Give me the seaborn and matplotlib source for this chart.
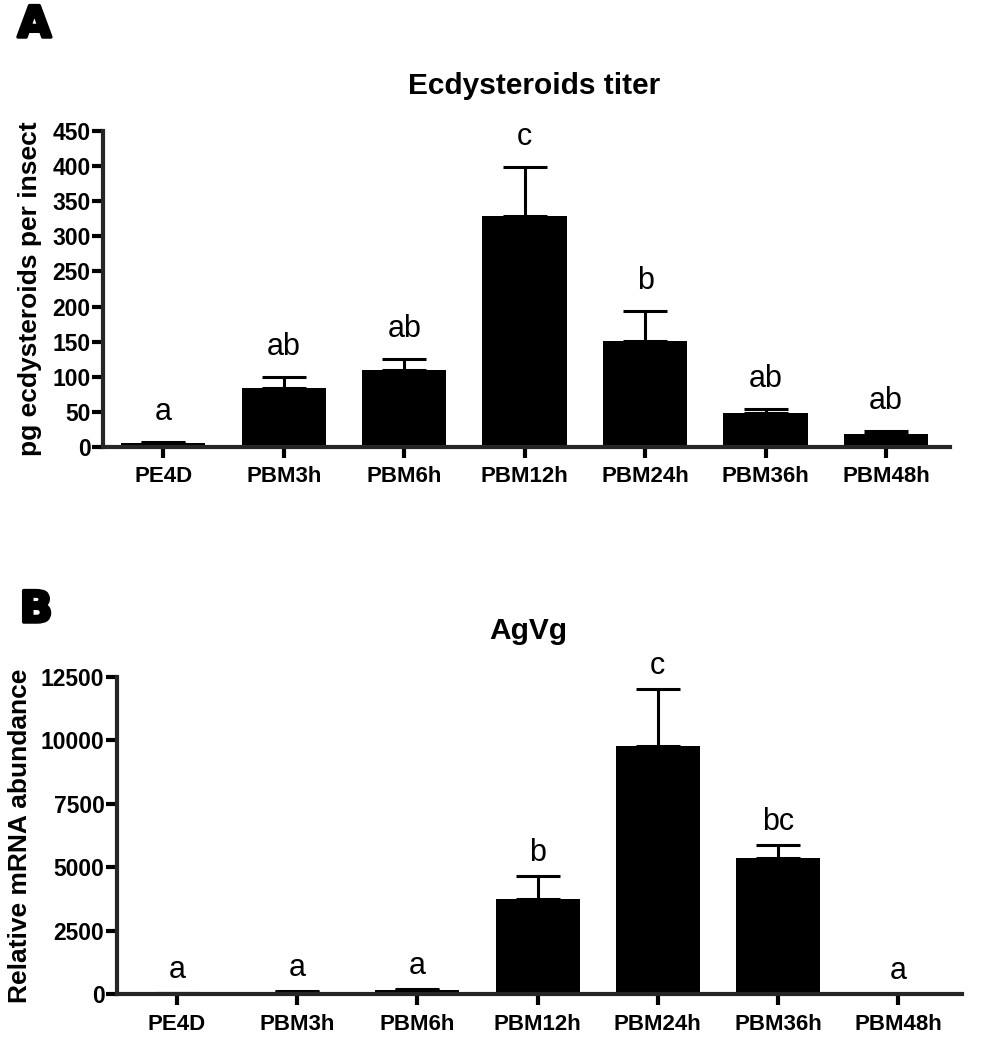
#Import libraries
import numpy as np
import seaborn as sns
import matplotlib
matplotlib.use('Agg')
import matplotlib.pyplot as plt
import matplotlib.patheffects as pe

#Data
groups = ['PE4D', 'PBM3h', 'PBM6h', 'PBM12h', 'PBM24h', 'PBM36h', 'PBM48h']

ecd_mean = [6, 84, 110, 329, 151, 49, 19]
ecd_sem = [1, 16, 15, 70, 43, 5, 4]
ecd_letters = ['a', 'ab', 'ab', 'c', 'b', 'ab', 'ab']

vg_mean = [50, 100, 180, 3750, 9770, 5350, 10]
vg_sem = [10, 20, 30, 900, 2240, 520, 5]
vg_letters = ['a', 'a', 'a', 'b', 'c', 'bc', 'a']

#Style
sns.set_style('ticks')
plt.rcParams['font.family'] = ['Liberation Sans', 'DejaVu Sans']
plt.rcParams['axes.linewidth'] = 3
plt.rcParams['text.color'] = 'black'
plt.rcParams['axes.labelcolor'] = 'black'


def draw_panel(ax, means, sems, letters, title, title_x, ylabel, ymax, ystep, letter_gap, label_x):
    sns.barplot(x=groups, y=means, color='black', saturation=1, width=0.7,
                errorbar=None, linewidth=0, ax=ax)
    pos = np.arange(len(groups))
    ax.errorbar(pos, means, yerr=[np.zeros(len(sems)), sems], fmt='none',
                ecolor='black', elinewidth=2.2, capsize=15.5, capthick=2.2, zorder=1)
    for x, m, s, t in zip(pos, means, sems, letters):
        ax.annotate(t, (x, m + s), xytext=(0, letter_gap), textcoords='offset points',
                    ha='center', va='baseline', fontsize=22, color='black')
    ax.set_xlim(-0.5, 6.53)
    ax.set_ylim(0, ymax)
    ax.set_yticks(np.arange(0, ymax + 1, ystep))
    sns.despine(ax=ax)
    ax.tick_params(axis='both', length=8, width=3, colors='black')
    ax.tick_params(axis='y', pad=1, labelsize=16.5)
    ax.tick_params(axis='x', pad=6, labelsize=16)
    for lab in ax.get_xticklabels() + ax.get_yticklabels():
        lab.set_fontweight('bold')
    ax.set_title(title, fontsize=21.5, fontweight='bold', pad=27, color='black', x=title_x)
    ax.set_ylabel(ylabel, fontsize=19, fontweight='bold')
    ax.yaxis.set_label_coords(label_x, 0.5)
    ax.set_xlabel('')


fig = plt.figure(figsize=(9.87, 10.5), dpi=100)
ax_a = fig.add_axes([0.1044, 0.5743, 0.858, 0.3009])
ax_b = fig.add_axes([0.1185, 0.0530, 0.856, 0.3025])

draw_panel(ax_a, ecd_mean, ecd_sem, ecd_letters, 'Ecdysteroids titer', 0.509,
           'pg ecdysteroids per insect', 450, 50, 16, -0.072)
draw_panel(ax_b, vg_mean, vg_sem, vg_letters, 'AgVg', 0.487,
           'Relative mRNA abundance', 12500, 2500, 11, -0.100)

#Panel letters
heavy = [pe.withStroke(linewidth=2.5, foreground='black')]
fig.text(0.018, 1 - 37 / 1050, 'A', fontsize=31, fontweight='black',
         family='DejaVu Sans', va='baseline', path_effects=heavy)
fig.text(0.020, 1 - 622 / 1050, 'B', fontsize=31, fontweight='black',
         family='DejaVu Sans', va='baseline', path_effects=heavy)

fig.savefig('out.png', dpi=100, facecolor='white')
